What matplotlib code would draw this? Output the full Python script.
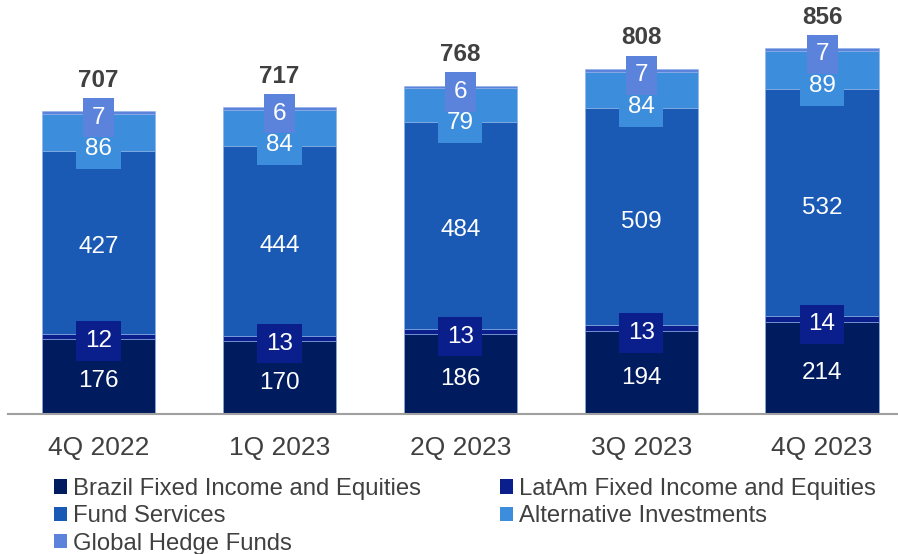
import numpy as np
import matplotlib
matplotlib.use("Agg")
import matplotlib.pyplot as plt
import matplotlib.patches as mpatches

plt.rcParams["font.family"] = ["Liberation Sans", "DejaVu Sans"]

# === DATA ===
quarters = ["4Q 2022", "1Q 2023", "2Q 2023", "3Q 2023", "4Q 2023"]
brazil = [176, 170, 186, 194, 214]
latam = [12, 13, 13, 13, 14]
fund_services = [427, 444, 484, 509, 532]
alternative = [86, 84, 79, 84, 89]
hedge_funds = [7, 6, 6, 7, 7]
totals = [707, 717, 768, 808, 856]

# === STYLE ===
SERIES = [
    ("Brazil Fixed Income and Equities", brazil, "#001b5e"),
    ("LatAm Fixed Income and Equities", latam, "#0b1f8c"),
    ("Fund Services", fund_services, "#1a5ab4"),
    ("Alternative Investments", alternative, "#3d8ddd"),
    ("Global Hedge Funds", hedge_funds, "#5b83dc"),
]
TEXT_COLOR = "#404040"
LABEL_SIZE = 17.5

fig = plt.figure(figsize=(8.98, 5.54), dpi=100)
ax = fig.add_axes([8 / 898, 140 / 554, 890 / 898, 414 / 554])

x = np.arange(len(quarters))
bar_width = 0.625
bottom = np.zeros(len(quarters))

for name, values, color in SERIES:
    vals = np.array(values, dtype=float)
    ax.bar(x, vals, bar_width, bottom=bottom, color=color,
           edgecolor="#8fb0e8", linewidth=0.4, label=name)

    for i, v in enumerate(vals):
        if name == "Alternative Investments":
            # pushed down so it does not collide with the hedge fund box above
            y = bottom[i] + v - 77 + hedge_funds[i]
        else:
            y = bottom[i] + v / 2
        ax.annotate(f"{int(v)}", (x[i], y), xytext=(0, -5),
                    textcoords="offset pixels", ha="center", va="center",
                    fontsize=LABEL_SIZE, color="white", zorder=5,
                    bbox=dict(boxstyle="square,pad=0.36", facecolor=color,
                              edgecolor="none"))
    bottom += vals

for i, t in enumerate(totals):
    ax.text(x[i], t + 72, str(t), ha="center", va="center",
            fontsize=LABEL_SIZE, fontweight="bold", color=TEXT_COLOR)

ax.set_xlim(-0.5, 4.42)
ax.set_ylim(0, 968)
ax.set_xticks(x)
ax.set_xticklabels(quarters, fontsize=19, color=TEXT_COLOR)
ax.tick_params(axis="x", length=0, pad=15.5)
ax.set_yticks([])
for side in ["top", "right", "left"]:
    ax.spines[side].set_visible(False)
ax.spines["bottom"].set_color("#a0a0a0")
ax.spines["bottom"].set_linewidth(1.5)

# legend laid out row-wise: two columns, column-major fill
handles = [mpatches.Patch(facecolor=c, label=n) for n, _, c in SERIES]
order = [0, 2, 4, 1, 3]
leg = fig.legend(
    handles=[handles[k] for k in order],
    loc="upper left",
    bbox_to_anchor=(54 / 898, 1 - 478 / 554),
    ncol=2,
    frameon=False,
    fontsize=17.2,
    handlelength=0.55,
    handleheight=0.55,
    handletextpad=0.25,
    columnspacing=3.3,
    labelspacing=0.22,
    borderaxespad=0,
    borderpad=0,
)
for txt in leg.get_texts():
    txt.set_color(TEXT_COLOR)

fig.savefig("out.png", dpi=100)
